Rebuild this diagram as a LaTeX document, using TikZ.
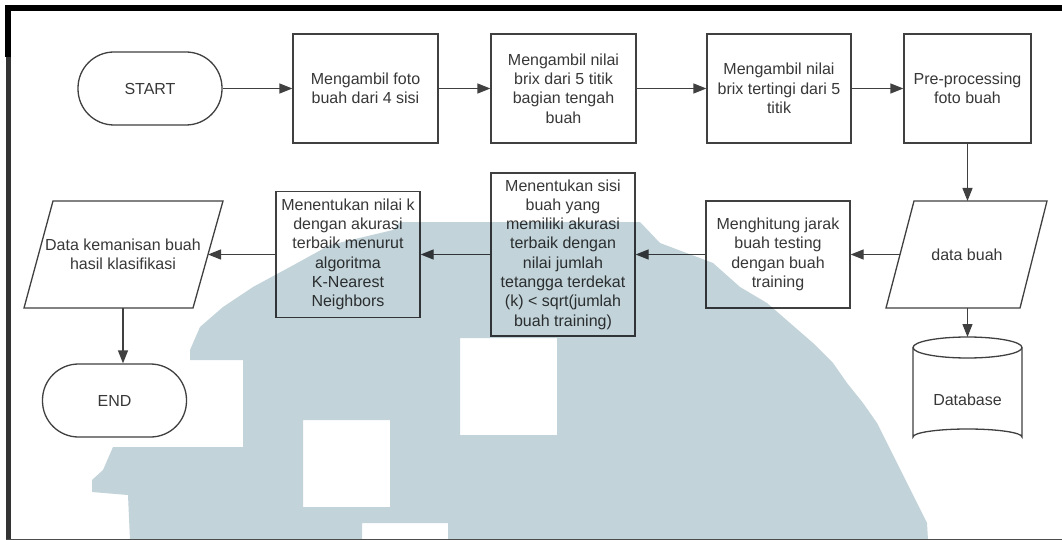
\documentclass[tikz,border=0pt]{standalone}
\usepackage{fontspec}
\setmainfont{Liberation Sans}
\usetikzlibrary{arrows.meta}
\definecolor{linegray}{HTML}{404040}
\definecolor{textgray}{HTML}{383838}
\definecolor{markblue}{HTML}{C2D3D9}
\begin{document}
\begin{tikzpicture}[x=1pt,y=-1pt,
  every node/.style={font=\fontsize{16}{19.3}\selectfont, text=textgray, align=center},
  box/.style={draw=linegray, line width=1.3pt, inner sep=2pt},
  term/.style={box, rounded corners=36pt, minimum width=144pt, minimum height=73pt},
  outline/.style={draw=linegray, line width=1.3pt, line join=miter},
  arr/.style={draw=linegray, line width=1.3pt, -{Triangle[length=13pt,width=10pt]}}]

\useasboundingbox (0,0) rectangle (1062,540);
\fill[white] (0,0) rectangle (1062,540);

% top row
\node[term] (start) at (150,88.5) {START};
\node[box, minimum width=145pt, minimum height=109pt] (take) at (365.5,88.5)
  {Mengambil foto\\buah dari 4 sisi};
\node[box, minimum width=145pt, minimum height=109pt] (brix) at (563.5,88.5)
  {Mengambil nilai\\brix dari 5 titik\\bagian tengah\\buah};
\node[box, minimum width=144pt, minimum height=109pt] (maxbrix) at (779,88.5)
  {Mengambil nilai\\brix tertingi dari 5\\titik};
\node[box, minimum width=127pt, minimum height=109pt] (prep) at (967.5,88.5)
  {Pre-processing\\foto buah};

% data buah (input/output)
\draw[outline] (914,201) -- (1047,201) -- (1020,308) -- (886,308) -- cycle;
\node (data) at (967,254.5) {data buah};
\coordinate (dataT) at (967.5,201);
\coordinate (dataL) at (900,254.5);
\coordinate (dataB) at (967.5,308);

% database cylinder
\draw[outline] (913,347.5) -- (913,437) arc[start angle=180, end angle=360, x radius=54.5, y radius=8]
  -- (1022,347.5);
\draw[outline] (967.5,347.5) ellipse[x radius=54.5, y radius=10.5];
\node (dbase) at (967.5,400) {Database};
\coordinate (dbaseT) at (967.5,337);

% middle row
\node[box, minimum width=144pt, minimum height=107pt] (dist) at (778,254.5)
  {Menghitung jarak\\buah testing\\dengan buah\\training};
\node[box, minimum width=144pt, minimum height=163pt] (side) at (563,254.5)
  {Menentukan sisi\\buah yang\\memiliki akurasi\\terbaik dengan\\nilai jumlah\\tetangga terdekat\\(k) < sqrt(jumlah\\buah training)};
\node[box, minimum width=144pt, minimum height=126pt] (bestk) at (348,254.5)
  {Menentukan nilai k\\dengan akurasi\\terbaik menurut\\algoritma\\K-Nearest\\Neighbors};

% result (input/output)
\draw[outline] (53,201) -- (223,201) -- (193,308) -- (24,308) -- cycle;
\node (result) at (123,254.5) {Data kemanisan buah\\hasil klasifikasi};
\coordinate (resultR) at (208,254.5);
\coordinate (resultB) at (123,308);

\node[term] (stop) at (114.5,400.5) {END};

% connectors
\draw[arr] (start) -- (take);
\draw[arr] (take) -- (brix);
\draw[arr] (brix) -- (maxbrix);
\draw[arr] (maxbrix) -- (prep);
\draw[arr] (prep.south) -- (dataT);
\draw[arr] (dataL) -- (dist);
\draw[arr] (dist) -- (side);
\draw[arr] (side) -- (bestk);
\draw[arr] (bestk) -- (resultR);
\draw[arr] (resultB) -- (resultB |- stop.north);
\draw[arr] (dataB) -- (dbaseT);

% watermark
\begin{scope}[blend mode=multiply]
\fill[markblue, even odd rule]
  (400,222) -- (640,222) -- (660,243) -- (713,263) -- (740,287) -- (767,303)
  -- (790,323) -- (813,343) -- (833,363) -- (847,383) -- (863,403) -- (877,423)
  -- (887,443) -- (897,463) -- (907,483) -- (917,503) -- (927,523) -- (928,540)
  -- (130,540) -- (128,495) -- (92,492) -- (92,480) -- (103,470) -- (113,447)
  -- (243,447) -- (243,360) -- (190,360) -- (190,350) -- (200,327) -- (223,307)
  -- (253,287) -- (290,267) -- (330,245) -- (393,230) -- cycle
  (460,338) rectangle (557,435)
  (303,420) rectangle (390,507)
  (362,523) rectangle (448,540);
\end{scope}

% frame
\fill[black] (5,5) rectangle (1062,11);
\fill[black] (5,5) rectangle (11,57);
\fill[black!80] (6,57) rectangle (10.5,540);
\fill[black!70] (6,538.5) rectangle (1062,540);
\end{tikzpicture}
\end{document}
